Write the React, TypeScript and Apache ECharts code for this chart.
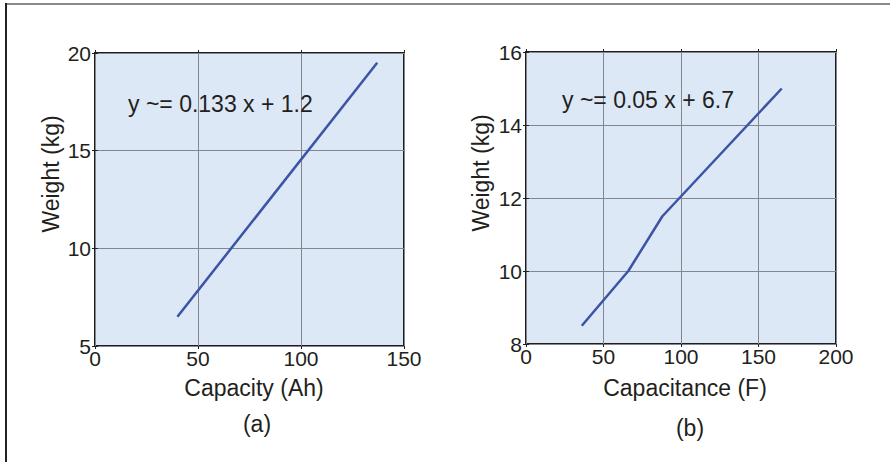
import React, { useEffect, useRef } from "react";
import * as echarts from "echarts";

// Panel (a): battery
const capacityAh = [40, 137];
const weightA = [6.5, 19.5];
const axisA = { xMin: 0, xMax: 150, xStep: 50, yMin: 5, yMax: 20, yStep: 5 };
const eqA = "y ~= 0.133 x + 1.2";

// Panel (b): ultracapacitor
const capacitanceF = [36, 66, 88, 165];
const weightB = [8.5, 10, 11.5, 15];
const axisB = { xMin: 0, xMax: 200, xStep: 50, yMin: 8, yMax: 16, yStep: 2 };
const eqB = "y ~= 0.05 x + 6.7";

const FONT = "'Liberation Sans', Arial, Helvetica, sans-serif";
const TXT = "#231f20";

export default function App() {
  const ref = useRef<HTMLDivElement>(null);
  useEffect(() => {
    if (!ref.current) return;
    const chart = echarts.init(ref.current, undefined, { renderer: "svg" });

    const grids = [
      { left: 95, top: 53, width: 309, height: 293 },
      { left: 526, top: 52, width: 310, height: 292 },
    ];
    const axes = [axisA, axisB];

    const xAxis: any[] = [];
    const yAxis: any[] = [];
    axes.forEach((a, gi) => {
      const common = {
        type: "value",
        gridIndex: gi,
        axisLine: { show: false },
        axisTick: { show: true, inside: false, length: 3, lineStyle: { color: "#222", width: 1 } },
      };
      xAxis.push({
        ...common,
        position: "bottom",
        min: a.xMin,
        max: a.xMax,
        interval: a.xStep,
        axisLabel: { color: TXT, fontSize: 21, fontFamily: FONT, margin: 2 },
        splitLine: { show: true, lineStyle: { color: "#83868d", width: 1 } },
      });
      xAxis.push({
        ...common,
        position: "top",
        min: a.xMin,
        max: a.xMax,
        interval: a.xStep,
        axisLabel: { show: false },
        splitLine: { show: false },
      });
      yAxis.push({
        ...common,
        position: "left",
        min: a.yMin,
        max: a.yMax,
        interval: a.yStep,
        axisLabel: { color: TXT, fontSize: 21, fontFamily: FONT, margin: 4 },
        splitLine: { show: true, lineStyle: { color: "#83868d", width: 1 } },
      });
      yAxis.push({
        ...common,
        position: "right",
        min: a.yMin,
        max: a.yMax,
        interval: a.yStep,
        axisLabel: { show: false },
        splitLine: { show: false },
      });
    });

    const textEl = (text: string, x: number, y: number, opts: any = {}) => ({
      type: "text",
      x,
      y,
      rotation: opts.rotation || 0,
      z: 100,
      style: {
        text,
        fill: TXT,
        font: `${opts.size || 23}px ${FONT}`,
        textAlign: opts.align || "center",
        textVerticalAlign: "middle",
      },
    });

    chart.setOption({
      animation: false,
      backgroundColor: "#ffffff",
      grid: grids.map((g) => ({
        ...g,
        show: true,
        backgroundColor: "#dde8f6",
        borderColor: "#1e1e1e",
        borderWidth: 2,
      })),
      xAxis,
      yAxis,
      series: [
        {
          type: "line",
          xAxisIndex: 0,
          yAxisIndex: 0,
          data: capacityAh.map((x, i) => [x, weightA[i]]),
          showSymbol: false,
          lineStyle: { color: "#3b54a5", width: 2.5 },
          z: 5,
        },
        {
          type: "line",
          xAxisIndex: 2,
          yAxisIndex: 2,
          data: capacitanceF.map((x, i) => [x, weightB[i]]),
          showSymbol: false,
          lineStyle: { color: "#3b54a5", width: 2.5 },
          z: 5,
        },
      ],
      graphic: [
        {
          type: "line",
          shape: { x1: 5, y1: 4, x2: 890, y2: 4 },
          style: { stroke: "#8a8a8a", lineWidth: 2 },
        },
        {
          type: "line",
          shape: { x1: 6, y1: 3, x2: 6, y2: 462 },
          style: { stroke: "#222222", lineWidth: 2 },
        },
        textEl(eqA, 128, 104, { align: "left" }),
        textEl(eqB, 562, 100, { align: "left" }),
        textEl("Weight (kg)", 51, 174, { rotation: Math.PI / 2 }),
        textEl("Weight (kg)", 481, 173, { rotation: Math.PI / 2 }),
        textEl("Capacity (Ah)", 254, 388),
        textEl("Capacitance (F)", 685, 388),
        textEl("(a)", 257, 424),
        textEl("(b)", 690, 428),
      ],
    });
    return () => chart.dispose();
  }, []);
  return (
    <div
      ref={ref}
      style={{ position: "fixed", left: 0, top: 0, width: 890, height: 462, background: "#fff" }}
    />
  );
}
